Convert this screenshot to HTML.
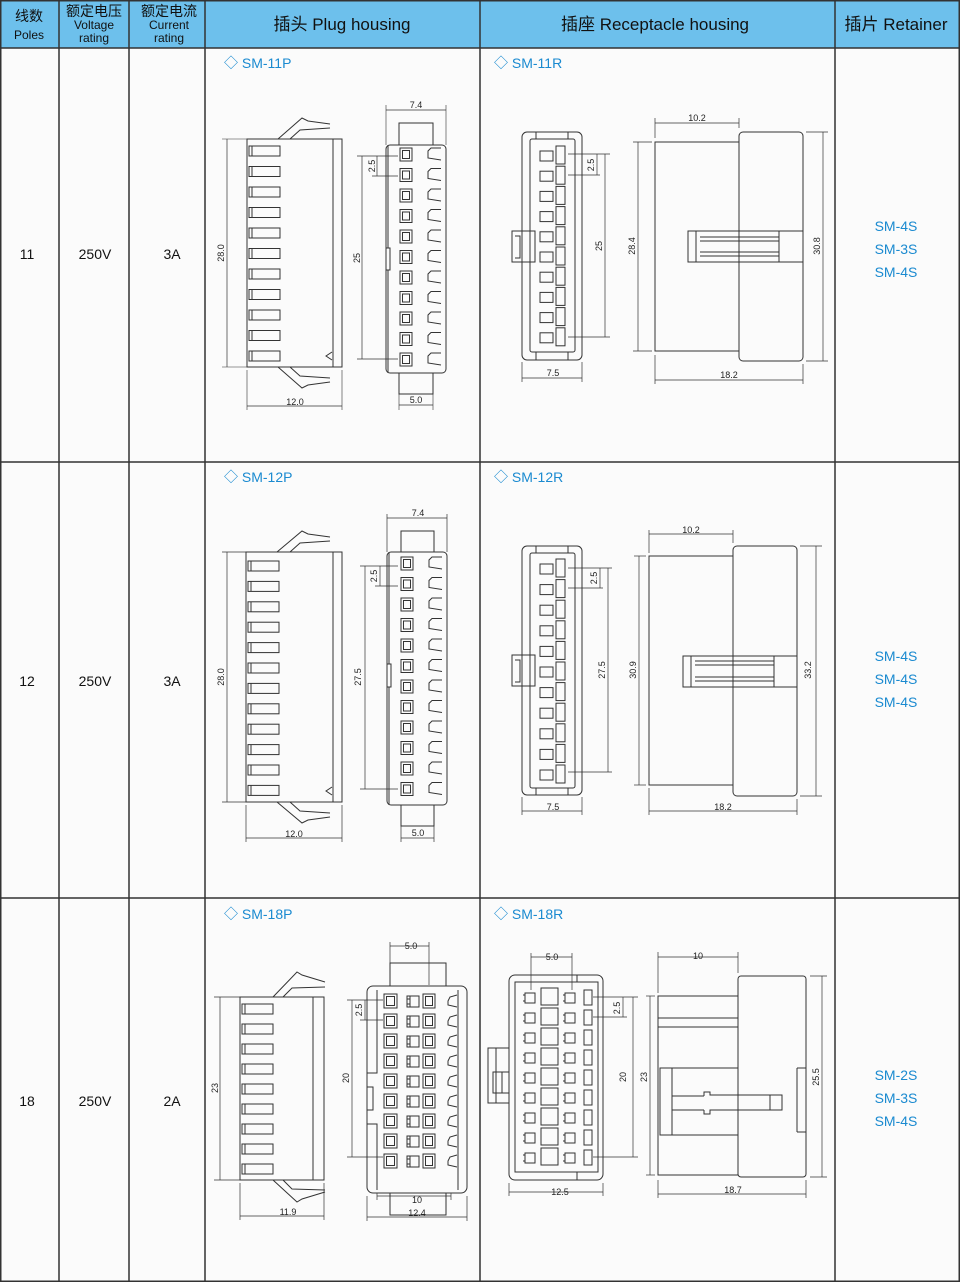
<!DOCTYPE html>
<html><head><meta charset="utf-8"><style>
body{margin:0;width:960px;height:1282px;background:#fff;font-family:"Liberation Sans","Noto Sans CJK SC",sans-serif;overflow:hidden}
svg{position:absolute;left:0;top:0}
</style></head><body>
<svg width="960" height="1282" viewBox="0 0 960 1282" font-family="Liberation Sans, Noto Sans CJK SC, sans-serif">
<defs>
<g id="ps"><rect x="0" y="0" width="31" height="10" fill="none" stroke="#333"/><line x1="3" y1="0" x2="3" y2="10" stroke="#333"/></g>
<g id="pf"><rect x="0" y="0" width="12" height="13" fill="none" stroke="#333"/><rect x="2.5" y="2.5" width="7" height="8" fill="none" stroke="#333"/><path d="M41 0 L31 0 L28 3 L28 10 L41 12" fill="none" stroke="#333"/></g>
<g id="rf"><rect x="0" y="5" width="13" height="10" fill="none" stroke="#333"/><rect x="16" y="0" width="9" height="18" fill="none" stroke="#333"/></g>
<g id="pf3"><rect x="0" y="0" width="13" height="14" fill="none" stroke="#333"/><rect x="2.5" y="2.5" width="8" height="9" fill="none" stroke="#333"/>
<path d="M23 2 L35 2 L35 13 L23 13 Z M26 2 L26 13 M23 5 L26 5 M23 10 L26 10" fill="none" stroke="#333"/>
<rect x="39" y="0" width="12" height="14" fill="none" stroke="#333"/><rect x="41.5" y="2.5" width="7" height="9" fill="none" stroke="#333"/>
<path d="M73 1 L66 3 L64 7 L64 11 L73 13" fill="none" stroke="#333"/></g>
<g id="rf3"><path d="M2 3 L12 3 L12 13 L2 13 Z M0 5 L2 5 M0 11 L2 11" fill="none" stroke="#333"/><rect x="18" y="-2" width="17" height="17" fill="none" stroke="#333"/>
<path d="M42 3 L52 3 L52 13 L42 13 Z M40 5 L42 5 M40 11 L42 11" fill="none" stroke="#333"/><rect x="61" y="0" width="8" height="15" fill="none" stroke="#333"/></g>
</defs>

<rect x="0" y="0" width="960" height="48" fill="#6dc0ec"/>
<rect x="0" y="48" width="960" height="1234" fill="#fbfbfb"/>
<g stroke="#333" stroke-width="1.5" fill="none">
<rect x="0.75" y="0.75" width="958.5" height="1280.5"/>
<line x1="59" y1="0" x2="59" y2="1282"/><line x1="129" y1="0" x2="129" y2="1282"/>
<line x1="205" y1="0" x2="205" y2="1282"/><line x1="480" y1="0" x2="480" y2="1282"/>
<line x1="835" y1="0" x2="835" y2="1282"/>
<line x1="0" y1="48" x2="960" y2="48"/><line x1="0" y1="462" x2="960" y2="462"/><line x1="0" y1="898" x2="960" y2="898"/>
</g>
<g fill="#111" text-anchor="middle">
<text x="29" y="21" font-size="14">线数</text><text x="29" y="39" font-size="12">Poles</text>
<text x="94" y="16" font-size="14">额定电压</text><text x="94" y="29" font-size="12">Voltage</text><text x="94" y="42" font-size="12">rating</text>
<text x="169" y="16" font-size="14">额定电流</text><text x="169" y="29" font-size="12">Current</text><text x="169" y="42" font-size="12">rating</text>
<text x="342" y="30" font-size="17">插头 Plug housing</text>
<text x="655" y="30" font-size="17">插座 Receptacle housing</text>
<text x="896" y="30" font-size="17">插片 Retainer</text>
</g>
<g fill="#111" text-anchor="middle" font-size="14">
<text x="27" y="259">11</text><text x="95" y="259">250V</text><text x="172" y="259">3A</text>
<text x="27" y="686">12</text><text x="95" y="686">250V</text><text x="172" y="686">3A</text>
<text x="27" y="1106">18</text><text x="95" y="1106">250V</text><text x="172" y="1106">2A</text>
</g>
<g fill="#1a8ad0" text-anchor="middle" font-size="14">
<text x="896" y="231">SM-4S</text><text x="896" y="254">SM-3S</text><text x="896" y="277">SM-4S</text>
<text x="896" y="661">SM-4S</text><text x="896" y="684">SM-4S</text><text x="896" y="707">SM-4S</text>
<text x="896" y="1080">SM-2S</text><text x="896" y="1103">SM-3S</text><text x="896" y="1126">SM-4S</text>
</g>
<g fill="#1a8ad0" font-size="14">
<text x="224" y="68">◇ SM-11P</text><text x="494" y="68">◇ SM-11R</text>
<text x="224" y="482">◇ SM-12P</text><text x="494" y="482">◇ SM-12R</text>
<text x="224" y="919">◇ SM-18P</text><text x="494" y="919">◇ SM-18R</text>
</g>

<g stroke="#333" stroke-width="1" fill="none">
<rect x="247" y="139" width="95" height="228"/><line x1="333" y1="139" x2="333" y2="367"/>
<path d="M278 139 L302 118 L308 121 L330 124 M290 139 L300 130 L330 128 M278 367 L302 388 L308 385 L330 382 M290 367 L300 376 L330 378"/>
<path d="M332 352 L326 356 L332 360"/>
<line x1="222" y1="139" x2="247" y2="139" stroke-width=".6"/><line x1="222" y1="367" x2="247" y2="367" stroke-width=".6"/>
<line x1="227" y1="139" x2="227" y2="367" stroke-width=".7"/>
<line x1="247" y1="370" x2="247" y2="410" stroke-width=".6"/><line x1="342" y1="370" x2="342" y2="410" stroke-width=".6"/>
<line x1="247" y1="406" x2="342" y2="406" stroke-width=".7"/>
<rect x="399" y="123" width="34" height="22"/><rect x="399" y="373" width="34" height="21"/>
<rect x="386" y="145" width="60" height="228" rx="4"/>
<line x1="388" y1="145" x2="388" y2="248"/><line x1="388" y1="270" x2="388" y2="373"/><rect x="386" y="248" width="4" height="22"/>
<line x1="386" y1="105" x2="386" y2="145" stroke-width=".6"/><line x1="446" y1="105" x2="446" y2="145" stroke-width=".6"/>
<line x1="386" y1="110" x2="446" y2="110" stroke-width=".7"/>
<line x1="399" y1="394" x2="399" y2="410" stroke-width=".6"/><line x1="433" y1="394" x2="433" y2="410" stroke-width=".6"/>
<line x1="399" y1="405" x2="433" y2="405" stroke-width=".7"/>
<g stroke-width=".7"><line x1="362" y1="156" x2="362" y2="359"/><line x1="357" y1="156" x2="398" y2="156"/><line x1="357" y1="359" x2="398" y2="359"/>
<line x1="377" y1="156" x2="377" y2="176"/><line x1="372" y1="176" x2="398" y2="176"/></g>
<rect x="522" y="132" width="60" height="228" rx="5"/><rect x="530" y="139" width="45" height="213" rx="2"/>
<line x1="536" y1="132" x2="536" y2="139"/><line x1="568" y1="132" x2="568" y2="139"/><line x1="536" y1="352" x2="536" y2="360"/><line x1="568" y1="352" x2="568" y2="360"/>
<path d="M522 231 L512 231 L512 262 L535 262 L535 231 L522 231 M515 236 L520 236 L520 258 L515 258"/>
<g stroke-width=".7"><line x1="522" y1="362" x2="522" y2="382"/><line x1="582" y1="362" x2="582" y2="382"/><line x1="522" y1="378" x2="582" y2="378"/>
<line x1="605" y1="154" x2="605" y2="337"/><line x1="568" y1="154" x2="610" y2="154"/><line x1="568" y1="337" x2="610" y2="337"/>
<line x1="597" y1="154" x2="597" y2="175"/><line x1="568" y1="175" x2="600" y2="175"/></g>
<rect x="655" y="142" width="84" height="209"/><rect x="739" y="132" width="64" height="229" rx="4"/>
<rect x="688" y="231" width="115" height="31"/><line x1="696" y1="231" x2="696" y2="262"/><line x1="779" y1="231" x2="779" y2="262"/>
<line x1="700" y1="237" x2="779" y2="237"/><line x1="700" y1="241" x2="779" y2="241"/><line x1="700" y1="252" x2="779" y2="252"/><line x1="700" y1="256" x2="779" y2="256"/>
<g stroke-width=".7"><line x1="655" y1="118" x2="655" y2="138"/><line x1="739" y1="118" x2="739" y2="128"/><line x1="655" y1="123" x2="739" y2="123"/>
<line x1="633" y1="142" x2="652" y2="142"/><line x1="633" y1="351" x2="652" y2="351"/><line x1="638" y1="142" x2="638" y2="351"/>
<line x1="806" y1="132" x2="828" y2="132"/><line x1="806" y1="361" x2="828" y2="361"/><line x1="823" y1="132" x2="823" y2="361"/>
<line x1="655" y1="355" x2="655" y2="384"/><line x1="803" y1="364" x2="803" y2="384"/><line x1="655" y1="380" x2="803" y2="380"/></g>

<rect x="246" y="552" width="96" height="250"/><line x1="333" y1="552" x2="333" y2="802"/>
<path d="M277 552 L302 531 L308 534 L330 537 M290 552 L300 543 L330 541 M277 802 L302 823 L308 820 L330 817 M290 802 L300 811 L330 813"/>
<path d="M332 787 L326 791 L332 795"/>
<g stroke-width=".7"><line x1="222" y1="552" x2="246" y2="552"/><line x1="222" y1="802" x2="246" y2="802"/><line x1="227" y1="552" x2="227" y2="802"/>
<line x1="246" y1="805" x2="246" y2="842"/><line x1="342" y1="805" x2="342" y2="842"/><line x1="246" y1="838" x2="342" y2="838"/></g>
<rect x="401" y="531" width="33" height="21"/><rect x="401" y="805" width="33" height="21"/>
<rect x="387" y="552" width="60" height="253" rx="4"/>
<line x1="389" y1="552" x2="389" y2="664"/><line x1="389" y1="687" x2="389" y2="805"/><rect x="387" y="664" width="4" height="23"/>
<g stroke-width=".7"><line x1="387" y1="514" x2="387" y2="552"/><line x1="447" y1="514" x2="447" y2="552"/><line x1="387" y1="518" x2="447" y2="518"/>
<line x1="401" y1="826" x2="401" y2="842"/><line x1="434" y1="826" x2="434" y2="842"/><line x1="401" y1="838" x2="434" y2="838"/>
<line x1="365" y1="566" x2="365" y2="789"/><line x1="360" y1="566" x2="398" y2="566"/><line x1="360" y1="789" x2="398" y2="789"/>
<line x1="380" y1="566" x2="380" y2="586"/><line x1="375" y1="586" x2="398" y2="586"/></g>
<rect x="522" y="546" width="60" height="249" rx="5"/><rect x="530" y="553" width="45" height="235" rx="2"/>
<line x1="536" y1="546" x2="536" y2="553"/><line x1="568" y1="546" x2="568" y2="553"/><line x1="536" y1="788" x2="536" y2="795"/><line x1="568" y1="788" x2="568" y2="795"/>
<path d="M522 655 L512 655 L512 686 L535 686 L535 655 L522 655 M515 660 L520 660 L520 682 L515 682"/>
<g stroke-width=".7"><line x1="522" y1="797" x2="522" y2="815"/><line x1="582" y1="797" x2="582" y2="815"/><line x1="522" y1="811" x2="582" y2="811"/>
<line x1="608" y1="568" x2="608" y2="772"/><line x1="568" y1="568" x2="612" y2="568"/><line x1="568" y1="772" x2="612" y2="772"/>
<line x1="600" y1="568" x2="600" y2="588"/><line x1="568" y1="588" x2="603" y2="588"/></g>
<rect x="649" y="556" width="84" height="229"/><rect x="733" y="546" width="64" height="250" rx="4"/>
<rect x="683" y="656" width="114" height="31"/><line x1="691" y1="656" x2="691" y2="687"/><line x1="774" y1="656" x2="774" y2="687"/>
<line x1="695" y1="661" x2="774" y2="661"/><line x1="695" y1="665" x2="774" y2="665"/><line x1="695" y1="677" x2="774" y2="677"/><line x1="695" y1="681" x2="774" y2="681"/>
<g stroke-width=".7"><line x1="649" y1="530" x2="649" y2="553"/><line x1="733" y1="530" x2="733" y2="543"/><line x1="649" y1="534" x2="733" y2="534"/>
<line x1="634" y1="556" x2="646" y2="556"/><line x1="634" y1="785" x2="646" y2="785"/><line x1="639" y1="556" x2="639" y2="785"/>
<line x1="800" y1="546" x2="822" y2="546"/><line x1="800" y1="796" x2="822" y2="796"/><line x1="816" y1="546" x2="816" y2="796"/>
<line x1="649" y1="788" x2="649" y2="815"/><line x1="797" y1="799" x2="797" y2="815"/><line x1="649" y1="811" x2="797" y2="811"/></g>

<rect x="240" y="997" width="84" height="183"/><line x1="313" y1="997" x2="313" y2="1180"/>
<path d="M273 997 L297 972 L302 975 L325 982 M283 997 L292 988 L325 987 M273 1180 L297 1202 L302 1199 L325 1192 M283 1180 L292 1189 L325 1190"/>
<g stroke-width=".7"><line x1="214" y1="997" x2="240" y2="997"/><line x1="214" y1="1180" x2="240" y2="1180"/><line x1="220" y1="997" x2="220" y2="1180"/>
<line x1="240" y1="1183" x2="240" y2="1220"/><line x1="324" y1="1183" x2="324" y2="1220"/><line x1="240" y1="1216" x2="324" y2="1216"/></g>
<rect x="390" y="963" width="56" height="23"/><rect x="390" y="1193" width="56" height="22"/>
<rect x="367" y="986" width="100" height="207" rx="6"/>
<path d="M377 990 L377 1073 L367 1073 M367 1087 L373 1087 L373 1110 L367 1110 M367 1124 L377 1124 L377 1190"/>
<line x1="458" y1="990" x2="458" y2="1190"/>
<g stroke-width=".7"><line x1="390" y1="942" x2="390" y2="963"/><line x1="429" y1="942" x2="429" y2="985"/><line x1="390" y1="946" x2="429" y2="946"/>
<line x1="377" y1="1193" x2="377" y2="1200"/><line x1="451" y1="1193" x2="451" y2="1200"/><line x1="377" y1="1196" x2="451" y2="1196"/>
<line x1="367" y1="1196" x2="367" y2="1221"/><line x1="467" y1="1196" x2="467" y2="1221"/><line x1="367" y1="1217" x2="467" y2="1217"/>
<line x1="352" y1="1000" x2="352" y2="1157"/><line x1="347" y1="1000" x2="383" y2="1000"/><line x1="347" y1="1157" x2="383" y2="1157"/>
<line x1="365" y1="1000" x2="365" y2="1020"/><line x1="360" y1="1020" x2="383" y2="1020"/></g>
<rect x="509" y="975" width="94" height="205" rx="6"/><rect x="515" y="982" width="83" height="190"/>
<line x1="577" y1="975" x2="577" y2="982"/><line x1="577" y1="1172" x2="577" y2="1180"/>
<path d="M509 1048 L488 1048 L488 1103 L509 1103 M496 1048 L496 1103 M493 1072 L509 1072 L509 1093 L493 1093 Z M502 1072 L502 1093"/>
<g stroke-width=".7"><line x1="531" y1="953" x2="531" y2="990"/><line x1="572" y1="953" x2="572" y2="990"/><line x1="531" y1="957" x2="572" y2="957"/>
<line x1="509" y1="1183" x2="509" y2="1196"/><line x1="603" y1="1183" x2="603" y2="1196"/><line x1="509" y1="1192" x2="603" y2="1192"/>
<line x1="633" y1="997" x2="633" y2="1157"/><line x1="593" y1="997" x2="638" y2="997"/><line x1="593" y1="1157" x2="638" y2="1157"/>
<line x1="623" y1="997" x2="623" y2="1017"/><line x1="593" y1="1017" x2="627" y2="1017"/></g>
<rect x="658" y="996" width="80" height="179"/><rect x="738" y="976" width="68" height="201" rx="3"/>
<line x1="658" y1="1018" x2="738" y2="1018"/><line x1="658" y1="1027" x2="738" y2="1027"/>
<line x1="797" y1="1068" x2="806" y2="1068"/><line x1="797" y1="1068" x2="797" y2="1132"/><line x1="797" y1="1132" x2="806" y2="1132"/>
<path d="M738 1068 L660 1068 L660 1135 L738 1135 M672 1068 L672 1135"/>
<path d="M704 1096 L704 1092 L710 1092 L710 1095 L782 1095 L782 1110 L710 1110 L710 1114 L704 1114 L704 1110 M770 1095 L770 1110 M672 1096 L704 1096 M672 1110 L704 1110"/>
<g stroke-width=".7"><line x1="658" y1="952" x2="658" y2="993"/><line x1="738" y1="952" x2="738" y2="973"/><line x1="658" y1="957" x2="738" y2="957"/>
<line x1="646" y1="996" x2="655" y2="996"/><line x1="646" y1="1175" x2="655" y2="1175"/><line x1="650" y1="996" x2="650" y2="1175"/>
<line x1="810" y1="976" x2="827" y2="976"/><line x1="810" y1="1177" x2="827" y2="1177"/><line x1="822" y1="976" x2="822" y2="1177"/>
<line x1="658" y1="1180" x2="658" y2="1198"/><line x1="806" y1="1180" x2="806" y2="1198"/><line x1="658" y1="1194" x2="806" y2="1194"/></g>
</g>

<g>
<use href="#ps" x="249" y="146"/><use href="#ps" x="249" y="166.5"/><use href="#ps" x="249" y="187"/><use href="#ps" x="249" y="207.5"/><use href="#ps" x="249" y="228"/><use href="#ps" x="249" y="248.5"/><use href="#ps" x="249" y="269"/><use href="#ps" x="249" y="289.5"/><use href="#ps" x="249" y="310"/><use href="#ps" x="249" y="330.5"/><use href="#ps" x="249" y="351"/>
<use href="#pf" x="400" y="148"/><use href="#pf" x="400" y="168.5"/><use href="#pf" x="400" y="189"/><use href="#pf" x="400" y="209.5"/><use href="#pf" x="400" y="230"/><use href="#pf" x="400" y="250.5"/><use href="#pf" x="400" y="271"/><use href="#pf" x="400" y="291.5"/><use href="#pf" x="400" y="312"/><use href="#pf" x="400" y="332.5"/><use href="#pf" x="400" y="353"/>
<use href="#rf" x="540" y="146"/><use href="#rf" x="540" y="166.2"/><use href="#rf" x="540" y="186.4"/><use href="#rf" x="540" y="206.6"/><use href="#rf" x="540" y="226.8"/><use href="#rf" x="540" y="247"/><use href="#rf" x="540" y="267.2"/><use href="#rf" x="540" y="287.4"/><use href="#rf" x="540" y="307.6"/><use href="#rf" x="540" y="327.8"/>

<use href="#ps" x="248" y="561"/><use href="#ps" x="248" y="581.4"/><use href="#ps" x="248" y="601.8"/><use href="#ps" x="248" y="622.2"/><use href="#ps" x="248" y="642.6"/><use href="#ps" x="248" y="663"/><use href="#ps" x="248" y="683.4"/><use href="#ps" x="248" y="703.8"/><use href="#ps" x="248" y="724.2"/><use href="#ps" x="248" y="744.6"/><use href="#ps" x="248" y="765"/><use href="#ps" x="248" y="785.4"/>
<use href="#pf" x="401" y="557"/><use href="#pf" x="401" y="577.5"/><use href="#pf" x="401" y="598"/><use href="#pf" x="401" y="618.5"/><use href="#pf" x="401" y="639"/><use href="#pf" x="401" y="659.5"/><use href="#pf" x="401" y="680"/><use href="#pf" x="401" y="700.5"/><use href="#pf" x="401" y="721"/><use href="#pf" x="401" y="741.5"/><use href="#pf" x="401" y="762"/><use href="#pf" x="401" y="782.5"/>
<use href="#rf" x="540" y="559"/><use href="#rf" x="540" y="579.6"/><use href="#rf" x="540" y="600.2"/><use href="#rf" x="540" y="620.8"/><use href="#rf" x="540" y="641.4"/><use href="#rf" x="540" y="662"/><use href="#rf" x="540" y="682.6"/><use href="#rf" x="540" y="703.2"/><use href="#rf" x="540" y="723.8"/><use href="#rf" x="540" y="744.4"/><use href="#rf" x="540" y="765"/>

<use href="#ps" x="242" y="1004"/><use href="#ps" x="242" y="1024"/><use href="#ps" x="242" y="1044"/><use href="#ps" x="242" y="1064"/><use href="#ps" x="242" y="1084"/><use href="#ps" x="242" y="1104"/><use href="#ps" x="242" y="1124"/><use href="#ps" x="242" y="1144"/><use href="#ps" x="242" y="1164"/>
<use href="#pf3" x="384" y="994"/><use href="#pf3" x="384" y="1014"/><use href="#pf3" x="384" y="1034"/><use href="#pf3" x="384" y="1054"/><use href="#pf3" x="384" y="1074"/><use href="#pf3" x="384" y="1094"/><use href="#pf3" x="384" y="1114"/><use href="#pf3" x="384" y="1134"/><use href="#pf3" x="384" y="1154"/>
<use href="#rf3" x="523" y="990"/><use href="#rf3" x="523" y="1010"/><use href="#rf3" x="523" y="1030"/><use href="#rf3" x="523" y="1050"/><use href="#rf3" x="523" y="1070"/><use href="#rf3" x="523" y="1090"/><use href="#rf3" x="523" y="1110"/><use href="#rf3" x="523" y="1130"/><use href="#rf3" x="523" y="1150"/>
</g>

<g fill="#222" font-size="9" text-anchor="middle">
<text x="295" y="405">12.0</text><text x="416" y="108">7.4</text><text x="416" y="403">5.0</text>
<text x="553" y="376">7.5</text><text x="697" y="121">10.2</text><text x="729" y="378">18.2</text>
<text x="294" y="837">12.0</text><text x="418" y="516">7.4</text><text x="418" y="836">5.0</text>
<text x="553" y="810">7.5</text><text x="691" y="533">10.2</text><text x="723" y="810">18.2</text>
<text x="288" y="1215">11.9</text><text x="411" y="949">5.0</text><text x="417" y="1203">10</text><text x="417" y="1216">12.4</text>
<text x="552" y="960">5.0</text><text x="560" y="1195">12.5</text><text x="698" y="959">10</text><text x="733" y="1193">18.7</text>
<text transform="translate(224,253) rotate(-90)">28.0</text>
<text transform="translate(360,258) rotate(-90)">25</text>
<text transform="translate(375,166) rotate(-90)">2.5</text>
<text transform="translate(602,246) rotate(-90)">25</text>
<text transform="translate(594,165) rotate(-90)">2.5</text>
<text transform="translate(635,246) rotate(-90)">28.4</text>
<text transform="translate(820,246) rotate(-90)">30.8</text>
<text transform="translate(224,677) rotate(-90)">28.0</text>
<text transform="translate(361,677) rotate(-90)">27.5</text>
<text transform="translate(377,576) rotate(-90)">2.5</text>
<text transform="translate(605,670) rotate(-90)">27.5</text>
<text transform="translate(597,578) rotate(-90)">2.5</text>
<text transform="translate(636,670) rotate(-90)">30.9</text>
<text transform="translate(811,670) rotate(-90)">33.2</text>
<text transform="translate(218,1088) rotate(-90)">23</text>
<text transform="translate(349,1078) rotate(-90)">20</text>
<text transform="translate(362,1010) rotate(-90)">2.5</text>
<text transform="translate(626,1077) rotate(-90)">20</text>
<text transform="translate(620,1008) rotate(-90)">2.5</text>
<text transform="translate(647,1077) rotate(-90)">23</text>
<text transform="translate(819,1077) rotate(-90)">25.5</text>
</g>
</svg>
</body></html>
